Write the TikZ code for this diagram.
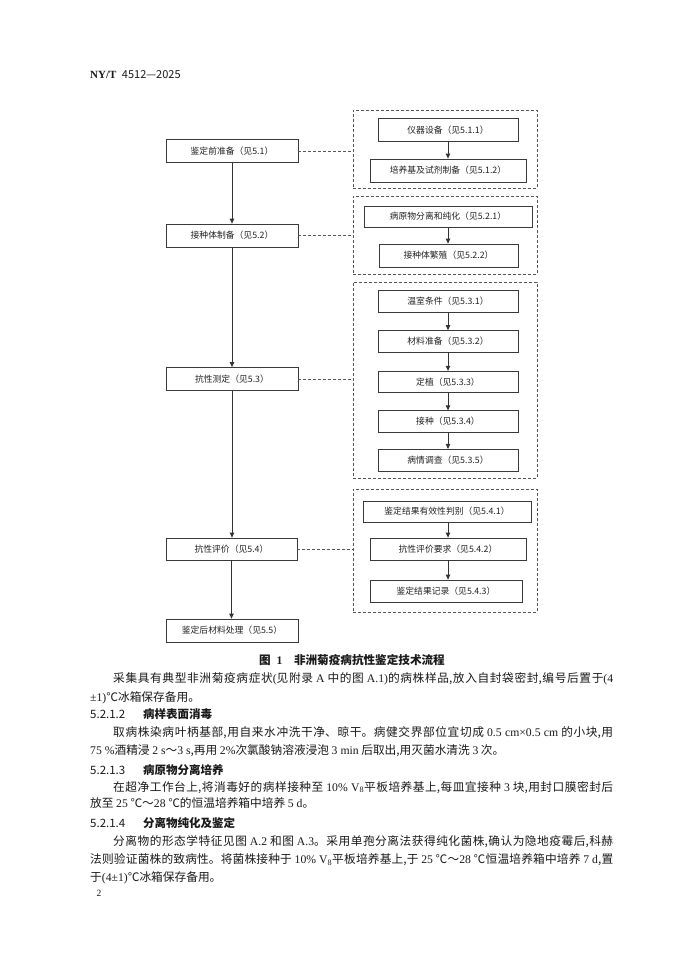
\documentclass[tikz,border=0pt]{standalone}
\usepackage{fontspec}
\setmainfont{Noto Sans CJK SC}
\newfontfamily\latf{Liberation Serif}
\newcommand\lt[1]{{\latf #1}}
\XeTeXlinebreaklocale "zh"
\XeTeXlinebreakskip=0pt plus 2pt minus 0.2pt
\usetikzlibrary{arrows.meta}
\definecolor{boxc}{HTML}{3A3A3A}
\definecolor{grpc}{HTML}{555555}
\definecolor{linec}{HTML}{333333}
\definecolor{txtc}{HTML}{222222}
\definecolor{bodyc}{HTML}{1A1A1A}
\begin{document}
\begin{tikzpicture}[x=1pt,y=-1pt,
  box/.style={draw=boxc, line width=0.8pt, inner sep=0pt, text=txtc,
    font=\fontsize{8.8}{10}\selectfont},
  grp/.style={draw=grpc, line width=0.7pt, dash pattern=on 3pt off 2pt, inner sep=0pt},
  arr/.style={draw=linec, line width=0.9pt, -{Triangle[length=5pt,width=4.5pt]}},
  link/.style={draw=grpc, line width=0.7pt, dash pattern=on 3pt off 2pt},
  body/.style={anchor=base west, inner sep=0pt, text=bodyc, font=\fontsize{11.7}{14}\selectfont},
  head/.style={body, font=\bfseries\fontsize{11.5}{14}\selectfont},
]
\fill[white] (0,0) rectangle (681,955);
\useasboundingbox (0,0) rectangle (681,955);

% header
\node[body, font=\fontsize{11}{13}\selectfont] (hdr) at (90,79) {\lt{\bfseries NY/T}\hspace{3pt} 4512—2025};

% left column
\node[box, minimum width=132pt, minimum height=23pt] (l1) at (232,151) {鉴定前准备（见5.1）};
\node[box, minimum width=132pt, minimum height=23pt] (l2) at (232,235.5) {接种体制备（见5.2）};
\node[box, minimum width=132pt, minimum height=23pt] (l3) at (232,379) {抗性测定（见5.3）};
\node[box, minimum width=131pt, minimum height=22pt] (l4) at (231.5,549) {抗性评价（见5.4）};
\node[box, minimum width=132pt, minimum height=23pt] (l5) at (232,630.5) {鉴定后材料处理（见5.5）};

\draw[arr] (l1.south) -- (l1.south |- l2.north);
\draw[arr] (l2.south) -- (l2.south |- l3.north);
\draw[arr] (l3.south) -- (l3.south |- l4.north);
\draw[arr] (l4.south) -- (l4.south |- l5.north);

% dashed groups
\node[grp, minimum width=184pt, minimum height=78pt] (g1) at (445,149) {};
\node[grp, minimum width=184pt, minimum height=78pt] (g2) at (445,235) {};
\node[grp, minimum width=184pt, minimum height=196pt] (g3) at (445,380) {};
\node[grp, minimum width=184pt, minimum height=123pt] (g4) at (445,550.5) {};

\draw[link] (l1.east) -- (l1.east -| g1.west);
\draw[link] (l2.east) -- (l2.east -| g2.west);
\draw[link] (l3.east) -- (l3.east -| g3.west);
\draw[link] (l4.east) -- (l4.east -| g4.west);

% group 1
\node[box, minimum width=140pt, minimum height=23.5pt] (a1) at (448,130) {仪器设备（见5.1.1）};
\node[box, minimum width=156pt, minimum height=23pt] (a2) at (448,170.5) {培养基及试剂制备（见5.1.2）};
\draw[arr] (a1.south) -- (a1.south |- a2.north);

% group 2
\node[box, minimum width=168pt, minimum height=21pt] (b1) at (448,216.5) {病原物分离和纯化（见5.2.1）};
\node[box, minimum width=139pt, minimum height=23pt] (b2) at (448.5,255.5) {接种体繁殖（见5.2.2）};
\draw[arr] (b1.south) -- (b1.south |- b2.north);

% group 3
\node[box, minimum width=140pt, minimum height=21.5pt] (c1) at (448,301.5) {温室条件（见5.3.1）};
\node[box, minimum width=140pt, minimum height=21.5pt] (c2) at (448,341.3) {材料准备（见5.3.2）};
\node[box, minimum width=140pt, minimum height=21.5pt] (c3) at (448,382) {定植（见5.3.3）};
\node[box, minimum width=140pt, minimum height=21.5pt] (c4) at (448,421.5) {接种（见5.3.4）};
\node[box, minimum width=140pt, minimum height=22pt] (c5) at (448,460.3) {病情调查（见5.3.5）};
\draw[arr] (c1.south) -- (c1.south |- c2.north);
\draw[arr] (c2.south) -- (c2.south |- c3.north);
\draw[arr] (c3.south) -- (c3.south |- c4.north);
\draw[arr] (c4.south) -- (c4.south |- c5.north);

% group 4
\node[box, minimum width=168pt, minimum height=21pt] (d1) at (447,511.5) {鉴定结果有效性判别（见5.4.1）};
\node[box, minimum width=156pt, minimum height=22pt] (d2) at (448,549) {抗性评价要求（见5.4.2）};
\node[box, minimum width=152pt, minimum height=22pt] (d3) at (446,591) {鉴定结果记录（见5.4.3）};
\draw[arr] (d1.south -| d2.south) -- (d2.north);
\draw[arr] (d2.south) -- (d2.south |- d3.north);

% caption
\node[inner sep=0pt, text=bodyc, font=\bfseries\fontsize{11.6}{14}\selectfont] (cap) at (352,660) {图\hspace{0.5em}\lt{1}\hspace{1em}非洲菊疫病抗性鉴定技术流程};

% body text
\node[body] (t1) at (113,682.4) {\parbox[b]{500pt}{\parfillskip=0pt 采集具有典型非洲菊疫病症状\lt{(}见附录 \lt{A} 中的图 \lt{A.1)}的病株样品,放入自封袋密封,编号后置于\lt{(4}}};
\node[body] (t2) at (90,701) {\lt{±1)}℃冰箱保存备用。};
\node[head] (h1n) at (90,718.4) {\mdseries 5.2.1.2};
\node[head] (h1t) at (143,718.4) {病样表面消毒};
\node[body] (t3) at (113,736.6) {\parbox[b]{500pt}{\parfillskip=0pt 取病株染病叶柄基部,用自来水冲洗干净、晾干。病健交界部位宜切成 \lt{0.5 cm×0.5 cm} 的小块,用}};
\node[body] (t4) at (90,754.4) {\lt{75 \%}酒精浸 \lt{2 s}～\lt{3 s},再用 \lt{2\%}次氯酸钠溶液浸泡 \lt{3 min} 后取出,用灭菌水清洗 \lt{3} 次。};
\node[head] (h2n) at (90,774.4) {\mdseries 5.2.1.3};
\node[head] (h2t) at (143,774.4) {病原物分离培养};
\node[body] (t5) at (113,791) {\parbox[b]{500pt}{\parfillskip=0pt 在超净工作台上,将消毒好的病样接种至 \lt{10\% V\textsubscript{8}}平板培养基上,每皿宜接种 \lt{3} 块,用封口膜密封后}};
\node[body] (t6) at (90,807.7) {放至 \lt{25} ℃～\lt{28} ℃的恒温培养箱中培养 \lt{5 d}。};
\node[head] (h3n) at (90,827.7) {\mdseries 5.2.1.4};
\node[head] (h3t) at (143,827.7) {分离物纯化及鉴定};
\node[body] (t7) at (113,845.4) {\parbox[b]{500pt}{\parfillskip=0pt 分离物的形态学特征见图 \lt{A.2} 和图 \lt{A.3}。采用单孢分离法获得纯化菌株,确认为隐地疫霉后,科赫}};
\node[body] (t8) at (90,863.4) {\parbox[b]{523pt}{\parfillskip=0pt 法则验证菌株的致病性。将菌株接种于 \lt{10\% V\textsubscript{8}}平板培养基上,于 \lt{25} ℃～\lt{28} ℃恒温培养箱中培养 \lt{7 d},置}};
\node[body] (t9) at (90,881.1) {于\lt{(4±1)}℃冰箱保存备用。};
\node[inner sep=0pt, text=bodyc, font=\latf\fontsize{9.5}{11}\selectfont] (pg) at (99,893.5) {2};
\end{tikzpicture}
\end{document}
